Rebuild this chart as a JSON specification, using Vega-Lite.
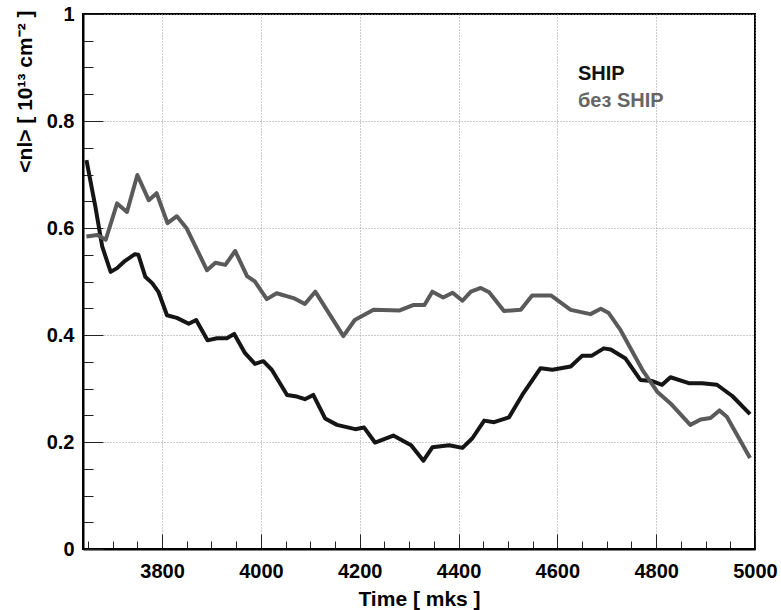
{
  "$schema": "https://vega.github.io/schema/vega-lite/v6.json",
  "width": 672,
  "height": 535,
  "autosize": {"type": "none"},
  "padding": {"left": 83, "top": 14, "right": 26, "bottom": 61},
  "background": "white",
  "config": {
    "view": {"stroke": "black", "strokeWidth": 2},
    "font": "Liberation Sans"
  },
  "data": {
    "values": [
      {"t": 3647, "n": 0.727, "s": "SHIP"},
      {"t": 3665, "n": 0.640, "s": "SHIP"},
      {"t": 3679, "n": 0.565, "s": "SHIP"},
      {"t": 3696, "n": 0.518, "s": "SHIP"},
      {"t": 3709, "n": 0.525, "s": "SHIP"},
      {"t": 3723, "n": 0.537, "s": "SHIP"},
      {"t": 3745, "n": 0.551, "s": "SHIP"},
      {"t": 3752, "n": 0.550, "s": "SHIP"},
      {"t": 3766, "n": 0.509, "s": "SHIP"},
      {"t": 3780, "n": 0.497, "s": "SHIP"},
      {"t": 3793, "n": 0.480, "s": "SHIP"},
      {"t": 3810, "n": 0.437, "s": "SHIP"},
      {"t": 3830, "n": 0.432, "s": "SHIP"},
      {"t": 3854, "n": 0.421, "s": "SHIP"},
      {"t": 3869, "n": 0.428, "s": "SHIP"},
      {"t": 3892, "n": 0.390, "s": "SHIP"},
      {"t": 3911, "n": 0.394, "s": "SHIP"},
      {"t": 3931, "n": 0.394, "s": "SHIP"},
      {"t": 3946, "n": 0.402, "s": "SHIP"},
      {"t": 3968, "n": 0.366, "s": "SHIP"},
      {"t": 3988, "n": 0.346, "s": "SHIP"},
      {"t": 4005, "n": 0.351, "s": "SHIP"},
      {"t": 4022, "n": 0.335, "s": "SHIP"},
      {"t": 4053, "n": 0.288, "s": "SHIP"},
      {"t": 4073, "n": 0.285, "s": "SHIP"},
      {"t": 4089, "n": 0.280, "s": "SHIP"},
      {"t": 4106, "n": 0.288, "s": "SHIP"},
      {"t": 4130, "n": 0.244, "s": "SHIP"},
      {"t": 4154, "n": 0.232, "s": "SHIP"},
      {"t": 4191, "n": 0.224, "s": "SHIP"},
      {"t": 4209, "n": 0.227, "s": "SHIP"},
      {"t": 4231, "n": 0.199, "s": "SHIP"},
      {"t": 4268, "n": 0.212, "s": "SHIP"},
      {"t": 4304, "n": 0.194, "s": "SHIP"},
      {"t": 4329, "n": 0.165, "s": "SHIP"},
      {"t": 4347, "n": 0.190, "s": "SHIP"},
      {"t": 4381, "n": 0.194, "s": "SHIP"},
      {"t": 4408, "n": 0.189, "s": "SHIP"},
      {"t": 4428, "n": 0.207, "s": "SHIP"},
      {"t": 4452, "n": 0.240, "s": "SHIP"},
      {"t": 4472, "n": 0.237, "s": "SHIP"},
      {"t": 4502, "n": 0.246, "s": "SHIP"},
      {"t": 4529, "n": 0.288, "s": "SHIP"},
      {"t": 4566, "n": 0.338, "s": "SHIP"},
      {"t": 4590, "n": 0.335, "s": "SHIP"},
      {"t": 4627, "n": 0.341, "s": "SHIP"},
      {"t": 4650, "n": 0.361, "s": "SHIP"},
      {"t": 4669, "n": 0.361, "s": "SHIP"},
      {"t": 4694, "n": 0.375, "s": "SHIP"},
      {"t": 4708, "n": 0.373, "s": "SHIP"},
      {"t": 4738, "n": 0.356, "s": "SHIP"},
      {"t": 4768, "n": 0.316, "s": "SHIP"},
      {"t": 4792, "n": 0.314, "s": "SHIP"},
      {"t": 4812, "n": 0.307, "s": "SHIP"},
      {"t": 4829, "n": 0.321, "s": "SHIP"},
      {"t": 4866, "n": 0.310, "s": "SHIP"},
      {"t": 4893, "n": 0.310, "s": "SHIP"},
      {"t": 4923, "n": 0.307, "s": "SHIP"},
      {"t": 4954, "n": 0.286, "s": "SHIP"},
      {"t": 4990, "n": 0.252, "s": "SHIP"},
      {"t": 3647, "n": 0.584, "s": "без SHIP"},
      {"t": 3669, "n": 0.587, "s": "без SHIP"},
      {"t": 3686, "n": 0.578, "s": "без SHIP"},
      {"t": 3709, "n": 0.646, "s": "без SHIP"},
      {"t": 3729, "n": 0.630, "s": "без SHIP"},
      {"t": 3750, "n": 0.699, "s": "без SHIP"},
      {"t": 3773, "n": 0.652, "s": "без SHIP"},
      {"t": 3789, "n": 0.665, "s": "без SHIP"},
      {"t": 3811, "n": 0.609, "s": "без SHIP"},
      {"t": 3830, "n": 0.622, "s": "без SHIP"},
      {"t": 3850, "n": 0.599, "s": "без SHIP"},
      {"t": 3891, "n": 0.521, "s": "без SHIP"},
      {"t": 3908, "n": 0.535, "s": "без SHIP"},
      {"t": 3928, "n": 0.531, "s": "без SHIP"},
      {"t": 3948, "n": 0.557, "s": "без SHIP"},
      {"t": 3972, "n": 0.510, "s": "без SHIP"},
      {"t": 3988, "n": 0.500, "s": "без SHIP"},
      {"t": 4012, "n": 0.467, "s": "без SHIP"},
      {"t": 4032, "n": 0.478, "s": "без SHIP"},
      {"t": 4066, "n": 0.469, "s": "без SHIP"},
      {"t": 4089, "n": 0.458, "s": "без SHIP"},
      {"t": 4110, "n": 0.481, "s": "без SHIP"},
      {"t": 4167, "n": 0.398, "s": "без SHIP"},
      {"t": 4190, "n": 0.428, "s": "без SHIP"},
      {"t": 4228, "n": 0.447, "s": "без SHIP"},
      {"t": 4281, "n": 0.446, "s": "без SHIP"},
      {"t": 4308, "n": 0.456, "s": "без SHIP"},
      {"t": 4331, "n": 0.456, "s": "без SHIP"},
      {"t": 4347, "n": 0.481, "s": "без SHIP"},
      {"t": 4369, "n": 0.470, "s": "без SHIP"},
      {"t": 4388, "n": 0.479, "s": "без SHIP"},
      {"t": 4408, "n": 0.464, "s": "без SHIP"},
      {"t": 4425, "n": 0.481, "s": "без SHIP"},
      {"t": 4445, "n": 0.488, "s": "без SHIP"},
      {"t": 4462, "n": 0.480, "s": "без SHIP"},
      {"t": 4492, "n": 0.445, "s": "без SHIP"},
      {"t": 4526, "n": 0.447, "s": "без SHIP"},
      {"t": 4549, "n": 0.474, "s": "без SHIP"},
      {"t": 4587, "n": 0.474, "s": "без SHIP"},
      {"t": 4627, "n": 0.447, "s": "без SHIP"},
      {"t": 4667, "n": 0.439, "s": "без SHIP"},
      {"t": 4688, "n": 0.449, "s": "без SHIP"},
      {"t": 4704, "n": 0.441, "s": "без SHIP"},
      {"t": 4728, "n": 0.409, "s": "без SHIP"},
      {"t": 4772, "n": 0.335, "s": "без SHIP"},
      {"t": 4802, "n": 0.294, "s": "без SHIP"},
      {"t": 4829, "n": 0.272, "s": "без SHIP"},
      {"t": 4869, "n": 0.232, "s": "без SHIP"},
      {"t": 4890, "n": 0.242, "s": "без SHIP"},
      {"t": 4910, "n": 0.245, "s": "без SHIP"},
      {"t": 4928, "n": 0.259, "s": "без SHIP"},
      {"t": 4943, "n": 0.247, "s": "без SHIP"},
      {"t": 4990, "n": 0.170, "s": "без SHIP"}
    ]
  },
  "mark": {"type": "line", "strokeWidth": 4, "strokeJoin": "round", "strokeCap": "butt"},
  "encoding": {
    "x": {
      "field": "t",
      "type": "quantitative",
      "scale": {"domain": [3640, 5000], "nice": false, "zero": false},
      "axis": {
        "title": "Time [ mks ]",
        "titleFont": "Liberation Sans",
        "titleFontSize": 21,
        "titleFontWeight": "bold",
        "titleColor": "black",
        "titleY": 50,
        "titleBaseline": "middle",
        "values": [3650,3700,3750,3800,3850,3900,3950,4000,4050,4100,4150,4200,4250,4300,4350,4400,4450,4500,4550,4600,4650,4700,4750,4800,4850,4900,4950,5000],
        "labelExpr": "datum.value % 200 === 0 ? format(datum.value, 'd') : ''",
        "labelFont": "Liberation Sans",
        "labelFontSize": 20,
        "labelFontWeight": "bold",
        "labelColor": "black",
        "labelPadding": 27,
        "labelFlush": false,
        "labelOverlap": false,
        "domainColor": "black",
        "domainWidth": 2,
        "tickColor": "#222",
        "tickWidth": 1,
        "tickSize": {"condition": {"test": "datum.value % 200 === 0", "value": -15}, "value": -8},
        "grid": true,
        "gridColor": "#999",
        "gridDash": [1, 2],
        "gridWidth": 1,
        "gridOpacity": {"condition": {"test": "datum.value % 200 === 0", "value": 1}, "value": 0}
      }
    },
    "y": {
      "field": "n",
      "type": "quantitative",
      "scale": {"domain": [0, 1], "nice": false},
      "axis": {
        "title": "<nl> [ 10¹³ cm⁻² ]",
        "titleFont": "Liberation Sans",
        "titleFontSize": 21,
        "titleFontWeight": "bold",
        "titleColor": "black",
        "titleAngle": 270,
        "titleAlign": "right",
        "titleBaseline": "middle",
        "titleX": -58,
        "titleY": -4,
        "values": [0,0.05,0.1,0.15,0.2,0.25,0.3,0.35,0.4,0.45,0.5,0.55,0.6,0.65,0.7,0.75,0.8,0.85,0.9,0.95,1],
        "labelExpr": "abs(datum.value*5 - round(datum.value*5)) < 0.001 ? format(datum.value, '~g') : ''",
        "labelFont": "Liberation Sans",
        "labelFontSize": 20,
        "labelFontWeight": "bold",
        "labelColor": "black",
        "labelPadding": 29,
        "labelFlush": false,
        "labelOverlap": false,
        "domainColor": "black",
        "domainWidth": 2,
        "tickColor": "#222",
        "tickWidth": 1,
        "tickSize": {"condition": {"test": "abs(datum.value*5 - round(datum.value*5)) < 0.001", "value": -20}, "value": -10},
        "grid": true,
        "gridColor": "#999",
        "gridDash": [1, 2],
        "gridWidth": 1,
        "gridOpacity": {"condition": {"test": "abs(datum.value*5 - round(datum.value*5)) < 0.001", "value": 1}, "value": 0}
      }
    },
    "color": {
      "field": "s",
      "type": "nominal",
      "scale": {"domain": ["SHIP", "без SHIP"], "range": ["#151515", "#5a5a5a"]},
      "legend": {
        "title": null,
        "orient": "none",
        "legendX": 475,
        "legendY": 50,
        "symbolSize": 0,
        "symbolStrokeWidth": 0,
        "symbolOpacity": 0,
        "labelFont": "Liberation Sans",
        "labelFontSize": 20,
        "labelFontWeight": "bold",
        "labelOffset": 0,
        "rowPadding": 7,
        "encode": {
          "labels": {"update": {"fill": {"signal": "datum.label === 'SHIP' ? '#111111' : '#666666'"}}}
        }
      }
    }
  }
}
